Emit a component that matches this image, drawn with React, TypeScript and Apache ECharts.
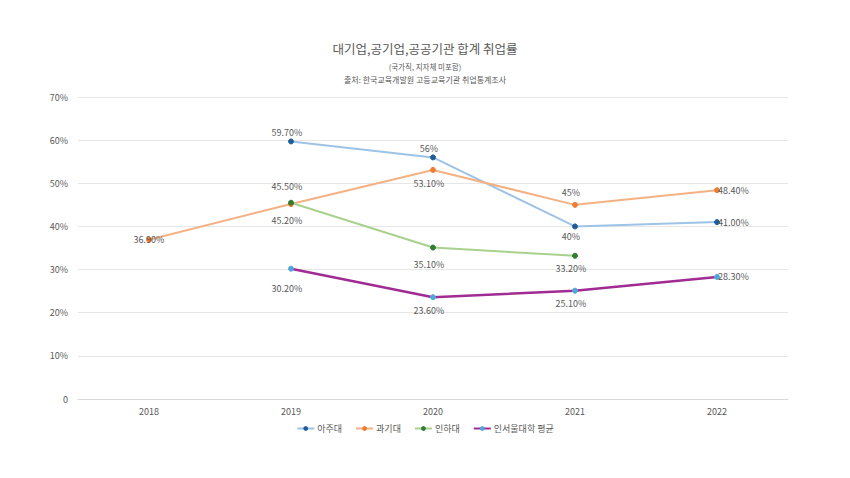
import React, { useEffect, useRef } from "react";
import * as echarts from "echarts";

const years = ["2018", "2019", "2020", "2021", "2022"];
const ajou = [null, 59.7, 56, 40, 41];
const ajouLabels = ["", "59.70%", "56%", "40%", "41.00%"];
const seoultech = [36.9, 45.2, 53.1, 45, 48.4];
const seoultechLabels = ["36.90%", "45.20%", "53.10%", "45%", "48.40%"];
const inha = [null, 45.5, 35.1, 33.2, null];
const inhaLabels = ["", "45.50%", "35.10%", "33.20%", ""];
const seoulAvg = [null, 30.2, 23.6, 25.1, 28.3];
const seoulAvgLabels = ["", "30.20%", "23.60%", "25.10%", "28.30%"];
const seriesNames = ["아주대", "과기대", "인하대", "인서울대학 평균"];

// label placement (position, distance) per point
const ajouPos: [string, number][] = [["top", 0], ["top", 1.5], ["top", 1.5], ["bottom", 2.5], ["right", -2]];
const seoultechPos: [string, number][] = [["inside", 0], ["bottom", 8.5], ["bottom", 6.5], ["top", 4.5], ["right", -2]];
const inhaPos: [string, number][] = [["top", 0], ["top", 8.5], ["bottom", 9.5], ["bottom", 5.5], ["top", 0]];
const seoulAvgPos: [string, number][] = [["bottom", 0], ["bottom", 12.5], ["bottom", 5.5], ["bottom", 5.5], ["right", -2]];

const FONT = "'Noto Sans CJK KR', 'Noto Sans', sans-serif";
const TXT = "#595959";

function buildData(vals: (number | null)[], labels: string[], pos: [string, number][]) {
  return vals.map((v, i) =>
    v === null
      ? null
      : {
          value: v,
          label: {
            show: true,
            position: pos[i][0],
            distance: pos[i][1],
            offset: pos[i][0] === "top" || pos[i][0] === "bottom" ? [-4, 0] : [0, 0],
            formatter: labels[i],
            color: TXT,
            fontSize: 9,
            fontFamily: FONT,
          },
        }
  );
}

export default function App() {
  const ref = useRef<HTMLDivElement>(null);
  useEffect(() => {
    if (!ref.current) return;
    const chart = echarts.init(ref.current, null, { renderer: "svg" });
    const mk = (
      name: string,
      vals: (number | null)[],
      labels: string[],
      pos: [string, number][],
      lineColor: string,
      markColor: string,
      width: number
    ) => ({
      name,
      type: "line",
      data: buildData(vals, labels, pos),
      symbol: "circle",
      symbolSize: 5,
      connectNulls: false,
      lineStyle: { color: lineColor, width },
      itemStyle: { color: markColor, borderColor: markColor },
      color: lineColor,
    });
    chart.setOption({
      animation: false,
      backgroundColor: "#ffffff",
      title: [
        {
          text: "대기업,공기업,공공기관 합계 취업률",
          left: "center",
          top: 37,
          textStyle: { fontSize: 12.5, fontWeight: "normal", color: TXT, fontFamily: FONT },
        },
        {
          text: "(국가직, 지자체 미포함)",
          left: "center",
          top: 58,
          textStyle: { fontSize: 7.5, fontWeight: "normal", color: TXT, fontFamily: FONT },
        },
        {
          text: "출처: 한국교육개발원 고등교육기관 취업통계조사",
          left: "center",
          top: 70,
          textStyle: { fontSize: 8, fontWeight: "normal", color: TXT, fontFamily: FONT },
        },
      ],
      legend: {
        top: 419,
        left: "center",
        itemWidth: 17,
        itemHeight: 6,
        itemGap: 13,
        textStyle: { color: TXT, fontSize: 9, fontFamily: FONT, padding: [0, 0, 0, -2] },
        data: seriesNames,
      },
      grid: { left: 78, right: 62, top: 97, bottom: 79 },
      xAxis: {
        type: "category",
        data: years,
        boundaryGap: true,
        axisLine: { lineStyle: { color: "#d9d9d9" } },
        axisTick: { show: false },
        axisLabel: { color: TXT, fontSize: 9, fontFamily: FONT, margin: 8 },
      },
      yAxis: {
        type: "value",
        min: 0,
        max: 70,
        interval: 10,
        axisLine: { show: false },
        axisTick: { show: false },
        splitLine: { lineStyle: { color: "#e6e6e6" } },
        axisLabel: {
          color: TXT,
          fontSize: 9,
          fontFamily: FONT,
          margin: 10,
          formatter: (v: number) => (v === 0 ? "0" : v + "%"),
        },
      },
      series: [
        mk(seriesNames[0], ajou, ajouLabels, ajouPos, "#9dc3e6", "#1f5c99", 2),
        mk(seriesNames[1], seoultech, seoultechLabels, seoultechPos, "#f4b183", "#ed7d31", 2),
        mk(seriesNames[2], inha, inhaLabels, inhaPos, "#a9d18e", "#2e7d32", 2),
        mk(seriesNames[3], seoulAvg, seoulAvgLabels, seoulAvgPos, "#a02b93", "#4ea6dc", 2.5),
      ],
    });
    return () => chart.dispose();
  }, []);
  return <div ref={ref} style={{ width: 850, height: 478, position: "absolute", left: 0, top: 0 }} />;
}
